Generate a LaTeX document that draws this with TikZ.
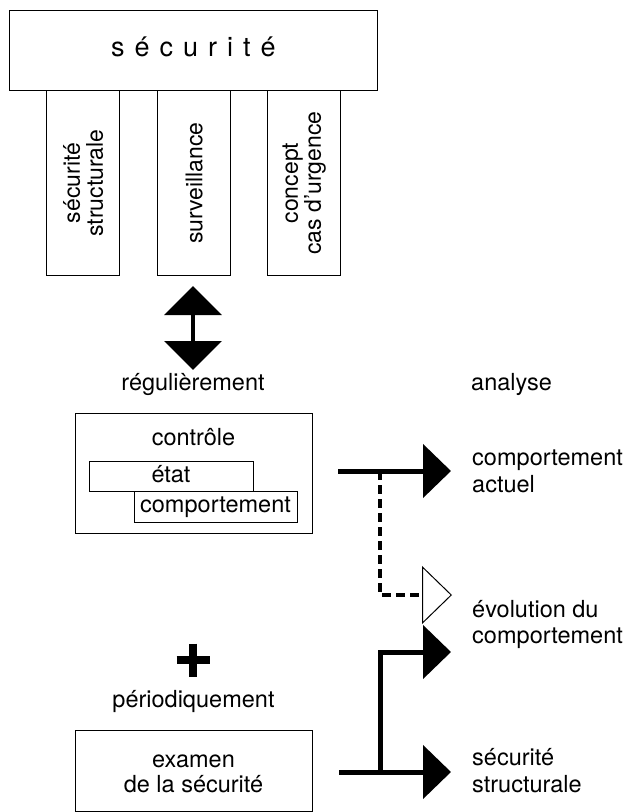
\documentclass[tikz,border=0pt]{standalone}
\usepackage{fontspec}
\setmainfont{TeX Gyre Heros}
\usetikzlibrary{arrows.meta}
\begin{document}
\begin{tikzpicture}[x=1pt,y=-1pt,
  box/.style={draw, line width=1.2pt, inner sep=0pt, anchor=north west},
  lbl/.style={font=\fontsize{23.5}{27}\selectfont, inner sep=0pt},
  pil/.style={font=\fontsize{23}{23}\selectfont, rotate=90, align=center, inner sep=0pt},
  flow/.style={line width=5pt, line join=miter},
  bigtip/.style={-{Triangle[length=28pt,width=53pt]}},
  opentip/.style={-{Triangle[open,length=30pt,width=58pt,line width=1pt]}},
]
\useasboundingbox (0,0) rectangle (629,812);

% main block and its three pillars
\node[box, minimum width=368pt, minimum height=80pt] (secu) at (9,10) {};
\node[font=\fontsize{27}{32}\selectfont, inner sep=0pt, anchor=base] (secutxt) at (193.5,56)
  {s\hspace{10pt}é\hspace{10pt}c\hspace{10pt}u\hspace{10pt}r\hspace{10pt}i\hspace{10pt}t\hspace{10pt}é};
\node[box, minimum width=73pt, minimum height=185pt] (p1) at (46,90) {};
\node[box, minimum width=73pt, minimum height=185pt] (p2) at (157,90) {};
\node[box, minimum width=73pt, minimum height=185pt] (p3) at (267,90) {};
\node[pil] (p1t) at (p1.center) {sécurité\\structurale};
\node[pil] (p2t) at (p2.center) {surveillance};
\node[pil] (p3t) at (p3.center) {concept\\cas d'urgence};

% double-headed arrow
\coordinate (uptip) at (193,286);
\coordinate (dntip) at (193,370);
\draw[line width=4pt, {Triangle[length=29pt,width=57pt]}-{Triangle[length=29pt,width=57pt]}] (uptip) -- (dntip);

\node[lbl, anchor=base] (reg) at (193,390) {régulièrement};
\node[lbl, anchor=base west] (ana) at (471,390) {analyse};

% monitoring block
\node[box, minimum width=237pt, minimum height=120pt] (ctrl) at (75,413) {};
\node[lbl, anchor=base] (ctrltxt) at (193.5,445) {contrôle};
\node[box, minimum width=164pt, minimum height=30pt] (etat) at (89,461) {};
\node[lbl, anchor=base] (etattxt) at (171,482) {état};
\node[box, minimum width=163pt, minimum height=31pt] (comp) at (134,491) {};
\node[lbl, anchor=base] (comptxt) at (215.5,512) {comportement};

% periodic review
\draw[line width=8pt] (176.5,660) -- (209.5,660) (193,643.5) -- (193,676.5);
\node[lbl, anchor=base] (per) at (193.5,707) {périodiquement};
\node[box, minimum width=237pt, minimum height=81pt] (exam) at (75,730) {};
\node[lbl, anchor=base] (exam1) at (193.5,767) {examen};
\node[lbl, anchor=base] (exam2) at (193.5,792) {de la sécurité};

% results
\node[lbl, anchor=base west] (r1a) at (472,465) {comportement};
\node[lbl, anchor=base west] (r1b) at (472,492) {actuel};
\node[lbl, anchor=base west] (r2a) at (472,617) {évolution du};
\node[lbl, anchor=base west] (r2b) at (472,643) {comportement};
\node[lbl, anchor=base west] (r3a) at (472,765) {sécurité};
\node[lbl, anchor=base west] (r3b) at (472,792) {structurale};

% connectors
\coordinate (s1) at (338,471);
\coordinate (j1) at (380,471);
\coordinate (t1) at (451,471);
\coordinate (t2) at (452,595);
\coordinate (s3) at (339,772);
\coordinate (j3) at (380,772);
\coordinate (t3) at (451,652);
\coordinate (t4) at (451,772);

\draw[flow, bigtip] (s1) -- (t1);
\draw[line width=4.5pt, dash pattern=on 9pt off 5pt, opentip] (j1) |- (t2);
\draw[flow, bigtip] (s3) -- (t4);
\draw[flow, bigtip] (j3) |- (t3);
\end{tikzpicture}
\end{document}
